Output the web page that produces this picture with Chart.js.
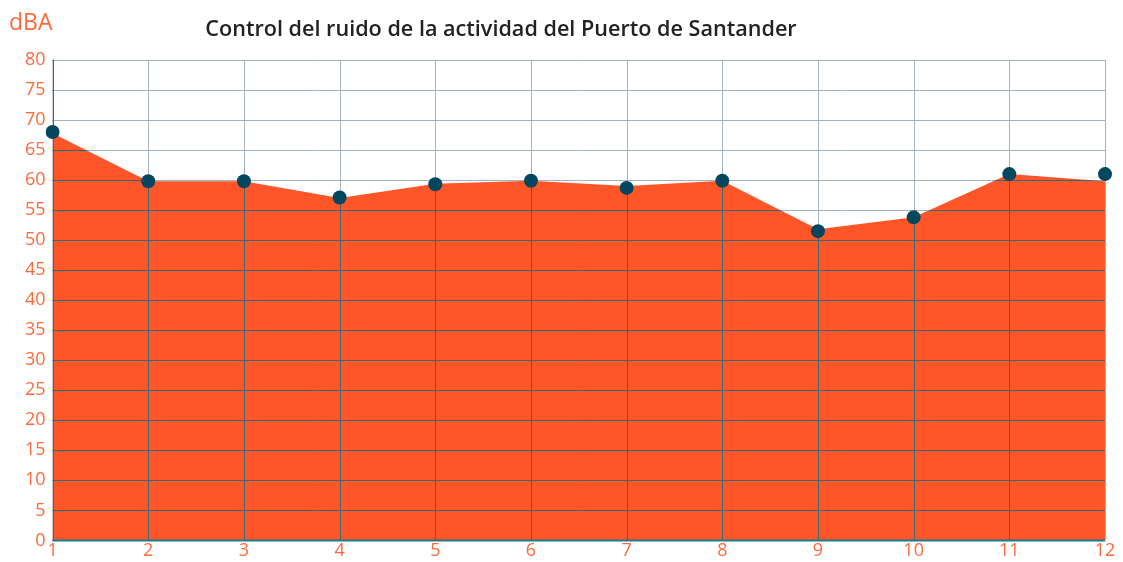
<!DOCTYPE html>
<html lang="es">
<head>
<meta charset="UTF-8">
<title>Control del ruido de la actividad del Puerto de Santander</title>
<script src="https://cdn.jsdelivr.net/npm/chart.js"></script>
<style>
  html, body { margin: 0; padding: 0; background: #fff; }
  .chart-box { position: relative; width: 1123px; height: 562px; }
</style>
</head>
<body>
<div class="chart-box"><canvas id="ruidoChart"></canvas></div>
<script>
// Datos
const meses = ['1', '2', '3', '4', '5', '6', '7', '8', '9', '10', '11', '12'];
const nivelArea = [67.8, 59.8, 59.8, 57.0, 59.4, 59.9, 59.0, 59.9, 51.8, 53.8, 61.0, 59.8];
const nivelPuntos = [68.0, 59.8, 59.8, 57.1, 59.3, 59.9, 58.7, 59.9, 51.5, 53.8, 61.0, 61.0];
const yMin = 0, yMax = 80, yPaso = 5;

const naranja = '#ff5629';
const textoNaranja = '#ff6a3d';
const azulPunto = '#03475f';

// grid: dark lines over the orange area, light lines behind it
const gridPlugin = {
  id: 'gridSobreArea',
  afterDatasetDraw(chart, args) {
    if (args.index !== 0) return;
    const ctx = chart.ctx;
    const a = chart.chartArea;
    const xs = chart.scales.x, ys = chart.scales.y;
    const lines = (color) => {
      ctx.strokeStyle = color;
      ctx.lineWidth = 1;
      ctx.beginPath();
      for (let v = yMin; v <= yMax; v += yPaso) {
        const y = Math.round(ys.getPixelForValue(v)) + 0.5;
        ctx.moveTo(a.left, y); ctx.lineTo(a.right, y);
      }
      meses.forEach((m, i) => {
        const x = Math.round(xs.getPixelForValue(i)) + 0.5;
        ctx.moveTo(x, a.top); ctx.lineTo(x, a.bottom);
      });
      ctx.stroke();
    };
    ctx.save();
    ctx.globalCompositeOperation = 'source-atop';
    lines('#3a6874');
    ctx.globalCompositeOperation = 'destination-over';
    lines('#a3b3c3');
    ctx.globalCompositeOperation = 'source-over';
    // axis lines
    ctx.strokeStyle = '#1f7a8c';
    ctx.lineWidth = 2;
    ctx.beginPath();
    ctx.moveTo(a.left, a.bottom); ctx.lineTo(a.right, a.bottom);
    ctx.stroke();
    ctx.restore();
  },
  afterDraw(chart) {
    const ctx = chart.ctx;
    ctx.save();
    ctx.textBaseline = 'middle';
    ctx.fillStyle = textoNaranja;
    ctx.font = '23px "Open Sans"';
    ctx.textAlign = 'left';
    ctx.fillText('dBA', 9, 23);
    ctx.fillStyle = '#222';
    ctx.font = '600 21.6px "Open Sans"';
    ctx.textAlign = 'center';
    ctx.fillText('Control del ruido de la actividad del Puerto de Santander', 501, 30);
    ctx.restore();
  }
};

const ctx = document.getElementById('ruidoChart').getContext('2d');
new Chart(ctx, {
  type: 'line',
  data: {
    labels: meses,
    datasets: [{
      label: 'Nivel',
      data: nivelArea,
      backgroundColor: naranja,
      borderColor: naranja,
      borderWidth: 0,
      fill: 'origin',
      pointRadius: 0,
      tension: 0,
      order: 2
    }, {
      label: 'Medidas',
      data: nivelPuntos,
      showLine: false,
      pointRadius: 7,
      pointBackgroundColor: azulPunto,
      pointBorderColor: azulPunto,
      pointBorderWidth: 0,
      order: 1
    }]
  },
  options: {
    responsive: true,
    maintainAspectRatio: false,
    animation: false,
    layout: { padding: { top: 60, left: 18, right: 18, bottom: 0 } },
    plugins: {
      legend: { display: false },
      tooltip: { enabled: false }
    },
    scales: {
      x: {
        offset: false,
        grid: { display: false, drawTicks: false },
        border: { display: false },
        ticks: {
          color: textoNaranja,
          font: { family: 'Open Sans', size: 18 },
          padding: 0,
          maxRotation: 0
        }
      },
      y: {
        min: yMin,
        max: yMax,
        grid: { display: false, drawTicks: false },
        border: { display: true, color: '#c9d4df', width: 2 },
        ticks: {
          stepSize: yPaso,
          color: textoNaranja,
          font: { family: 'Open Sans', size: 18 },
          padding: 7
        }
      }
    }
  },
  plugins: [gridPlugin]
});
</script>
</body>
</html>
